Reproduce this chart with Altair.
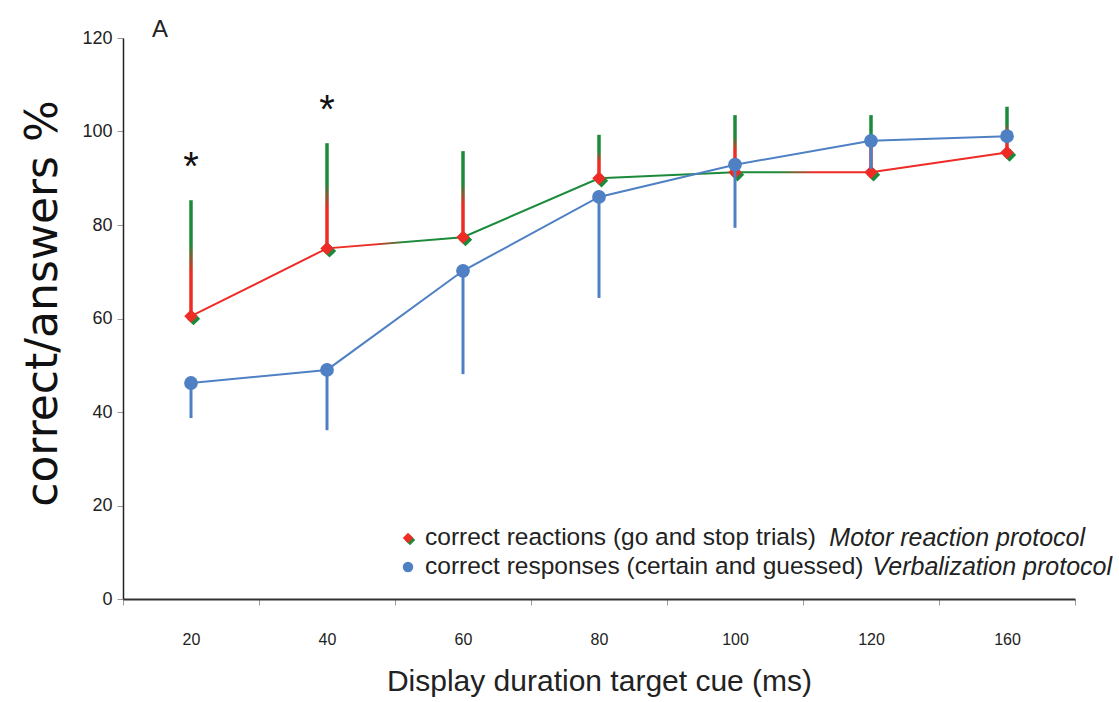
import altair as alt
import pandas as pd

# ---- data ----
durations = ["20", "40", "60", "80", "100", "120", "160"]
motor_mean = [60.5, 75.0, 77.4, 90.0, 91.3, 91.3, 95.5]
motor_upper = [85.3, 97.5, 95.8, 99.3, 103.5, 103.5, 105.3]
verbal_mean = [46.2, 49.0, 70.2, 86.0, 92.9, 98.0, 99.0]
verbal_lower = [38.7, 36.1, 48.1, 64.4, 79.4, 92.0, 97.5]
star_durations = ["20", "40"]
star_values = [94.5, 106.7]
y_ticks = [0, 20, 40, 60, 80, 100, 120]

legend_normal = ["correct reactions (go and stop trials)", "correct responses (certain and guessed)"]
legend_italic = ["Motor reaction protocol", "Verbalization protocol"]

RED = "#ee2b24"
GREEN = "#1c8a3b"
BLUE = "#4f80c4"
FONT = "Liberation Sans"

df = pd.DataFrame({
    "dur": durations,
    "motor": motor_mean,
    "motor_hi": motor_upper,
    "verbal": verbal_mean,
    "verbal_lo": verbal_lower,
})
stars = pd.DataFrame({"dur": star_durations, "v": star_values, "t": ["*", "*"]})

xscale = alt.Scale(type="band", domain=durations, paddingInner=0, paddingOuter=0)
yscale = alt.Scale(domain=[0, 120], nice=False, zero=True)

X = alt.X("dur:N", scale=xscale, sort=durations,
          axis=alt.Axis(title="Display duration target cue (ms)", labelAngle=0,
                        tickBand="extent", tickSize=6, tickColor="#9a9a9a", tickWidth=1,
                        domainColor="#333333", domainWidth=2,
                        labelFont=FONT, labelFontSize=16, labelColor="#222222",
                        labelPadding=26,
                        titleFont=FONT, titleFontSize=30, titleFontWeight="normal",
                        titleColor="#222222", titlePadding=19, grid=False))
Y = alt.Y("motor:Q", scale=yscale,
          axis=alt.Axis(title="correct/answers %", values=y_ticks, tickSize=6,
                        tickColor="#9a9a9a", domainColor="#222222", domainWidth=1.5,
                        labelFont=FONT, labelFontSize=18, labelColor="#222222", labelPadding=5,
                        titleFont="DejaVu Sans", titleFontSize=44, titleFontWeight="normal",
                        titleColor="#111111", titlePadding=16, titleY=265, grid=False))

base = alt.Chart(df)

motor_err = base.mark_bar(
    width=3.5,
    color=alt.Gradient(gradient="linear",
                       stops=[alt.GradientStop(color=RED, offset=0),
                              alt.GradientStop(color=RED, offset=0.38),
                              alt.GradientStop(color=GREEN, offset=0.62),
                              alt.GradientStop(color=GREEN, offset=1)],
                       x1=0, x2=0, y1=1, y2=0)
).encode(x=X, y=Y, y2="motor_hi:Q")

motor_line = base.mark_line(
    strokeWidth=2,
    color=alt.Gradient(gradient="linear",
                       stops=[alt.GradientStop(color=RED, offset=0),
                              alt.GradientStop(color=RED, offset=0.225),
                              alt.GradientStop(color=GREEN, offset=0.262),
                              alt.GradientStop(color=GREEN, offset=0.72),
                              alt.GradientStop(color=RED, offset=0.765),
                              alt.GradientStop(color=RED, offset=1)],
                       x1=0, x2=1, y1=0, y2=0)
).encode(x=X, y=Y)

motor_pt_g = base.mark_point(shape="diamond", filled=True, size=180, color=GREEN,
                             opacity=1, xOffset=2.5, yOffset=2.5).encode(x=X, y=Y)
motor_pt_r = base.mark_point(shape="diamond", filled=True, size=180, color=RED,
                             opacity=1).encode(x=X, y=Y)

verbal_err = base.mark_rule(strokeWidth=3, color=BLUE).encode(
    x=X, y=alt.Y("verbal:Q", scale=yscale), y2="verbal_lo:Q")
verbal_line = base.mark_line(strokeWidth=2, color=BLUE).encode(
    x=X, y=alt.Y("verbal:Q", scale=yscale))
verbal_pt = base.mark_circle(size=190, color=BLUE, opacity=1).encode(
    x=X, y=alt.Y("verbal:Q", scale=yscale))

star_layer = alt.Chart(stars).mark_text(fontSize=40, font=FONT, color="#111111",
                                        baseline="middle", dy=11).encode(
    x=alt.X("dur:N", scale=xscale, sort=durations),
    y=alt.Y("v:Q", scale=yscale), text="t:N")

one = pd.DataFrame({"k": [0]})
panel_a = alt.Chart(one).mark_text(text="A", fontSize=24, font=FONT, color="#222222",
                                   align="left", baseline="alphabetic").encode(
    x=alt.value(29), y=alt.value(-1))

leg_layers = []
leg_y = [500, 529]
italic_end = [962, 989]
for i in range(2):
    leg_layers.append(alt.Chart(one).mark_text(text=legend_normal[i], fontSize=24.5, font=FONT,
                                               color="#222222", align="left", baseline="middle")
                      .encode(x=alt.value(302), y=alt.value(leg_y[i])))
    leg_layers.append(alt.Chart(one).mark_text(text=legend_italic[i], fontSize=25, font=FONT,
                                               fontStyle="italic", color="#222222", align="right",
                                               baseline="middle")
                      .encode(x=alt.value(italic_end[i]), y=alt.value(leg_y[i])))
leg_layers.append(alt.Chart(one).mark_point(shape="diamond", filled=True, size=110, color=GREEN,
                                            opacity=1, xOffset=2, yOffset=2)
                  .encode(x=alt.value(285), y=alt.value(leg_y[0])))
leg_layers.append(alt.Chart(one).mark_point(shape="diamond", filled=True, size=110, color=RED,
                                            opacity=1)
                  .encode(x=alt.value(285), y=alt.value(leg_y[0])))
leg_layers.append(alt.Chart(one).mark_circle(size=110, color=BLUE, opacity=1)
                  .encode(x=alt.value(285), y=alt.value(leg_y[1])))

chart = alt.layer(
    motor_err, motor_line, motor_pt_g, motor_pt_r,
    verbal_err, verbal_line, verbal_pt, star_layer, panel_a, *leg_layers
).properties(
    width=952, height=561,
    background="white",
    autosize=alt.AutoSizeParams(type="none"),
    padding={"left": 123, "top": 38, "right": 44, "bottom": 103},
).configure_view(stroke=None)

chart.save("out.html", embed_options={"renderer": "svg", "actions": False})
